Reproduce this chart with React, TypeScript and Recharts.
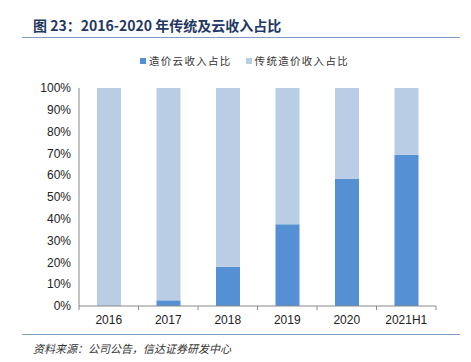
import { BarChart, Bar, XAxis, YAxis } from "recharts";

const years = ["2016", "2017", "2018", "2019", "2020", "2021H1"];
const cloudShare = [0, 2.6, 18, 37.5, 58.2, 69.4];
const traditionalShare = [100, 97.4, 82, 62.5, 41.8, 30.6];
const yTicks = [0, 10, 20, 30, 40, 50, 60, 70, 80, 90, 100];

const data = years.map((year, i) => ({
  year,
  cloud: cloudShare[i],
  traditional: traditionalShare[i],
}));

const CLOUD = "#5590D5";
const TRAD = "#B9CDE5";
const AXIS = "#898989";
const PLOT_LEFT = 79;
const PLOT_RIGHT = 436;
const STEP = (PLOT_RIGHT - PLOT_LEFT) / years.length;
const cjk = '"Noto Sans CJK SC", sans-serif';

const XTick = (props: any) => {
  const { x, y, payload, index } = props;
  const left = x - STEP / 2;
  return (
    <g>
      <line x1={left} y1={y - 8} x2={left} y2={y - 4} stroke={AXIS} />
      {index === years.length - 1 && (
        <line x1={x + STEP / 2} y1={y - 8} x2={x + STEP / 2} y2={y - 4} stroke={AXIS} />
      )}
      <text x={x} y={y + 10} textAnchor="middle" fill="#222" fontSize={12} fontFamily="Liberation Sans, Arial">
        {payload.value}
      </text>
    </g>
  );
};

export default function App() {
  return (
    <div style={{ position: "absolute", left: 0, top: 0, width: 471, height: 362, background: "#fff" }}>
      <div style={{ position: "absolute", left: 33, top: 15, fontFamily: cjk, fontWeight: 700, fontSize: 14, color: "#1F3864" }}>
        图 23：2016-2020 年传统及云收入占比
      </div>
      <div style={{ position: "absolute", left: 22, top: 37, width: 438, height: 1, background: "#7F9CC4" }} />
      <div style={{ position: "absolute", left: 140, top: 53, display: "flex", fontFamily: cjk, fontSize: 10.5, letterSpacing: 1.3, color: "#333" }}>
        <span style={{ display: "flex", alignItems: "center", marginRight: 14 }}>
          <span style={{ width: 6, height: 6, background: CLOUD, marginRight: 3 }} />
          造价云收入占比
        </span>
        <span style={{ display: "flex", alignItems: "center" }}>
          <span style={{ width: 6, height: 6, background: TRAD, marginRight: 3 }} />
          传统造价收入占比
        </span>
      </div>
      <div style={{ position: "absolute", left: 0, top: 0 }}>
        <BarChart
          width={471}
          height={362}
          data={data}
          margin={{ top: 88, right: 35, bottom: 26, left: 0 }}
          barSize={24}
        >
          <YAxis
            width={79}
            domain={[0, 100]}
            ticks={yTicks}
            tickFormatter={(v: number) => `${v}%`}
            axisLine={{ stroke: AXIS }}
            tickLine={false}
            tick={{ fill: "#222", fontSize: 12, fontFamily: "Liberation Sans, Arial" }}
            interval={0}
          />
          <XAxis
            dataKey="year"
            height={30}
            axisLine={{ stroke: AXIS }}
            tickLine={false}
            tick={<XTick />}
            interval={0}
          />
          <Bar dataKey="cloud" stackId="a" fill={CLOUD} isAnimationActive={false} />
          <Bar dataKey="traditional" stackId="a" fill={TRAD} isAnimationActive={false} />
        </BarChart>
      </div>
      <div style={{ position: "absolute", left: 22, top: 334, width: 438, height: 1, background: "#7F9CC4" }} />
      <div style={{ position: "absolute", left: 33, top: 340, fontFamily: cjk, fontStyle: "italic", fontSize: 11, color: "#333" }}>
        资料来源：公司公告，信达证券研发中心
      </div>
    </div>
  );
}
